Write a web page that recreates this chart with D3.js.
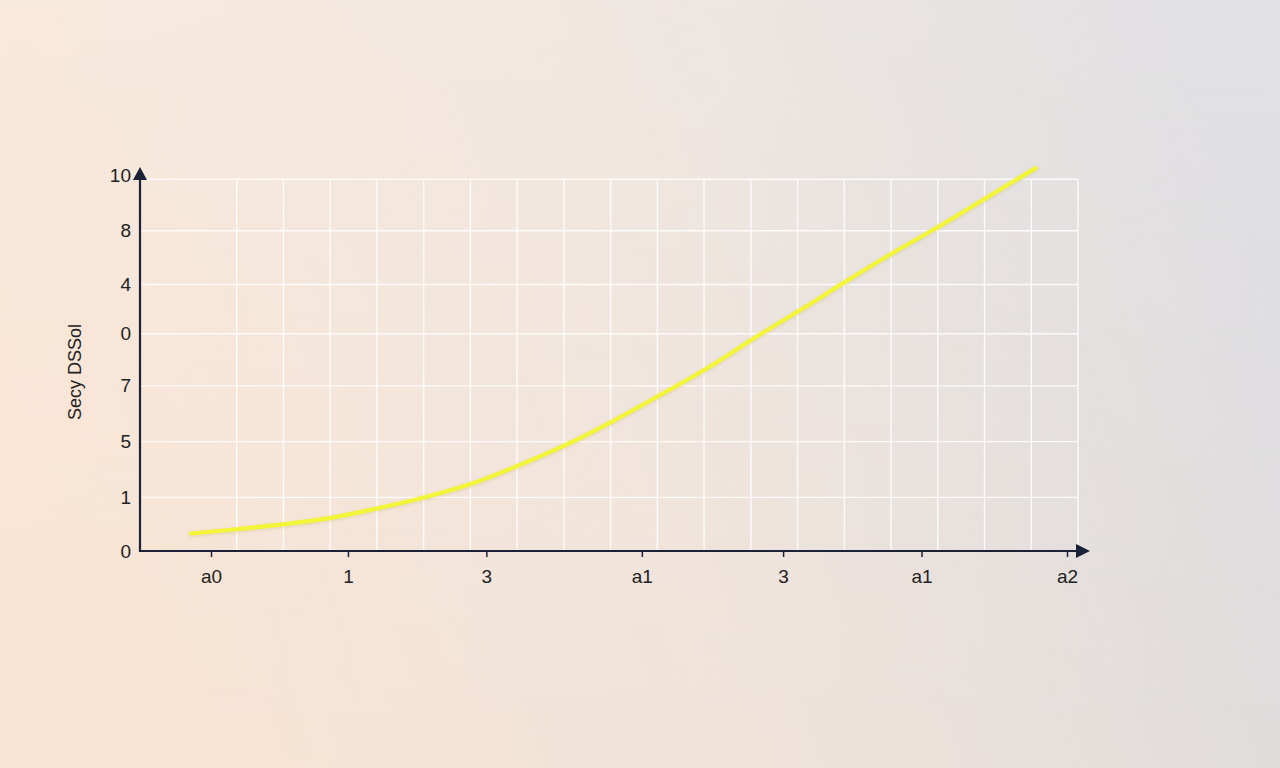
<!DOCTYPE html>
<html>
<head>
<meta charset="utf-8">
<script src="https://cdn.jsdelivr.net/npm/d3@7"></script>
<style>
  html, body { margin: 0; padding: 0; overflow: hidden; }
  body { width: 1280px; height: 768px; }
  text { font-family: "Liberation Sans", Arial, sans-serif; fill: #222; }
</style>
</head>
<body>
<div id="chart"></div>
<script>
// values
const xLabels = ["a0", "1", "3", "a1", "3", "a1", "a2"];
const xTickValues = [0, 0.96, 1.93, 3.02, 4.01, 4.98, 6];
const yLabels = ["0", "1", "5", "7", "0", "4", "8", "10"];
const yTickValues = [0, 1.01, 2.06, 3.11, 4.09, 5.02, 6.03, 7];
const xValues = [-0.14, 0.18, 0.5, 0.83, 1.16, 1.51, 1.85, 2.19, 2.52, 2.84, 3.17, 3.5, 3.82, 4.15, 4.47, 4.79, 5.12, 5.44, 5.78];
const yValues = [0.33, 0.41, 0.5, 0.62, 0.8, 1.02, 1.29, 1.65, 2.04, 2.48, 2.97, 3.48, 4.03, 4.57, 5.11, 5.63, 6.14, 6.66, 7.21];
const yTitle = "Secy DSSol";

const W = 1280, H = 768;
const svg = d3.select("#chart").append("svg")
    .attr("width", W)
    .attr("height", H);

// background gradient
const defs = svg.append("defs");
const bg = defs.append("linearGradient").attr("id", "bg")
    .attr("x1", "0%").attr("y1", "60%").attr("x2", "100%").attr("y2", "40%");
bg.append("stop").attr("offset", "0%").attr("stop-color", "#f9e4d3");
bg.append("stop").attr("offset", "50%").attr("stop-color", "#efe3da");
bg.append("stop").attr("offset", "100%").attr("stop-color", "#dbdadd");
const shade = defs.append("linearGradient").attr("id", "shade")
    .attr("x1", "0").attr("y1", "0").attr("x2", "0").attr("y2", "1");
shade.append("stop").attr("offset", "0%").attr("stop-color", "#fff").attr("stop-opacity", 0.18);
shade.append("stop").attr("offset", "100%").attr("stop-color", "#fff").attr("stop-opacity", 0);
const glow = defs.append("filter").attr("id", "glow")
    .attr("x", "-10%").attr("y", "-10%").attr("width", "120%").attr("height", "120%");
glow.append("feDropShadow").attr("dx", 0).attr("dy", 1).attr("stdDeviation", 1.5)
    .attr("flood-color", "#b0a040").attr("flood-opacity", 0.3);

svg.append("rect").attr("width", W).attr("height", H).attr("fill", "url(#bg)");
svg.append("rect").attr("width", W).attr("height", H).attr("fill", "url(#shade)");

// scales
const x = d3.scaleLinear().domain([0, 6]).range([211, 1067]);
const y = d3.scaleLinear().domain([0, 7]).range([551, 179.3]);
const axisX = 140, gridRight = 1078;

// grid
const gridX = d3.range(19).map(i => x.invert(236.7) + i * (x.invert(gridRight) - x.invert(236.7)) / 18);
svg.append("g").selectAll("line").data(yTickValues.slice(1)).join("line")
    .attr("x1", axisX).attr("x2", gridRight)
    .attr("y1", d => y(d)).attr("y2", d => y(d))
    .attr("stroke", "#fff").attr("stroke-opacity", 0.85).attr("stroke-width", 1.4);
svg.append("g").selectAll("line").data(gridX).join("line")
    .attr("x1", d => x(d)).attr("x2", d => x(d))
    .attr("y1", y(7)).attr("y2", y(0))
    .attr("stroke", "#fff").attr("stroke-opacity", 0.85).attr("stroke-width", 1.4);

// axes
const axisColor = "#1b2238";
const xAxis = svg.append("g").attr("transform", `translate(0,${y(0)})`)
    .call(d3.axisBottom(x).tickValues(xTickValues).tickFormat((d, i) => xLabels[i]).tickSize(6).tickPadding(13));
xAxis.select(".domain").remove();
xAxis.selectAll(".tick line").attr("stroke", axisColor).attr("stroke-width", 1.5);
xAxis.selectAll("text").attr("font-size", 19).attr("fill", "#222")
    .attr("font-family", "Liberation Sans, Arial, sans-serif");

const yAxis = svg.append("g").attr("transform", `translate(${axisX},0)`)
    .call(d3.axisLeft(y).tickValues(yTickValues).tickFormat((d, i) => yLabels[i]).tickSize(0).tickPadding(9));
yAxis.select(".domain").remove();
yAxis.selectAll("text").attr("font-size", 19).attr("fill", "#222")
    .attr("font-family", "Liberation Sans, Arial, sans-serif");
yAxis.selectAll(".tick").filter((d, i) => i === yTickValues.length - 1)
    .select("text").attr("dy", "0.1em");

// axis lines with arrow heads
svg.append("line").attr("x1", axisX).attr("x2", axisX).attr("y1", y(0) + 1).attr("y2", 176)
    .attr("stroke", axisColor).attr("stroke-width", 2.2);
svg.append("line").attr("x1", axisX - 1).attr("x2", 1080).attr("y1", y(0)).attr("y2", y(0))
    .attr("stroke", axisColor).attr("stroke-width", 2.2);
svg.append("path").attr("d", `M${axisX},167 L${axisX - 7},180 L${axisX + 7},180 Z`).attr("fill", axisColor);
svg.append("path").attr("d", `M1090,${y(0)} L1076,${y(0) - 7} L1076,${y(0) + 7} Z`).attr("fill", axisColor);

// y title
svg.append("text")
    .attr("transform", "translate(75,372) rotate(-90)")
    .attr("text-anchor", "middle")
    .attr("dominant-baseline", "central")
    .attr("font-size", 18)
    .text(yTitle);

// line
const pts = xValues.map((d, i) => [d, yValues[i]]);
svg.append("path").datum(pts)
    .attr("d", d3.line().x(d => x(d[0])).y(d => y(d[1])).curve(d3.curveCatmullRom.alpha(0.5)))
    .attr("fill", "none")
    .attr("stroke", "#f3f538")
    .attr("stroke-width", 4.2)
    .attr("stroke-linecap", "round")
    .attr("filter", "url(#glow)");
</script>
</body>
</html>
